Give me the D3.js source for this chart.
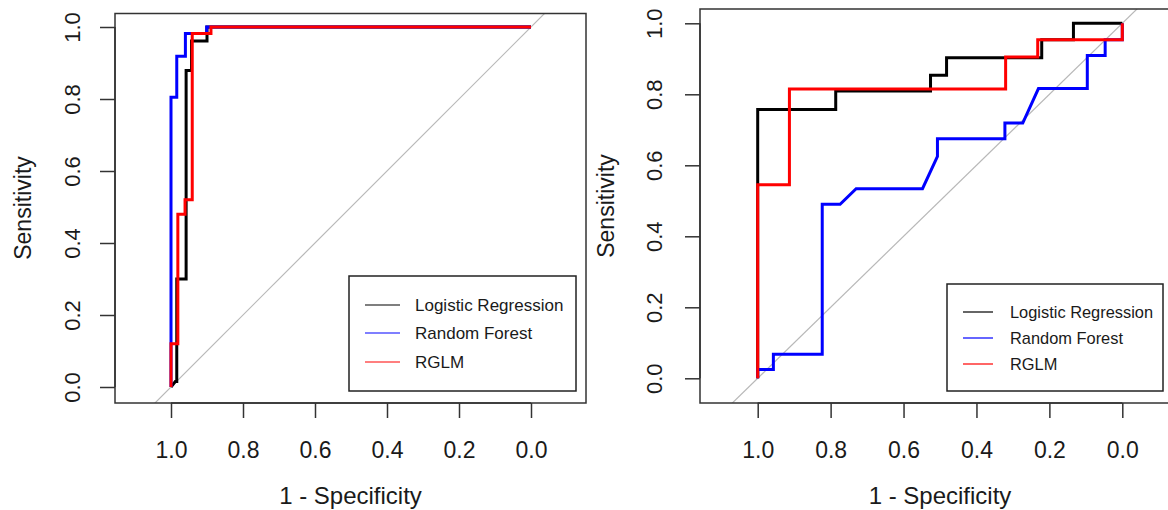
<!DOCTYPE html>
<html><head><meta charset="utf-8">
<script src="https://cdn.jsdelivr.net/npm/d3@7"></script>
<style>
html,body{margin:0;padding:0;background:#fff;}
text{font-family:"Liberation Sans",Arial,sans-serif;fill:#1a1a1a;}
</style></head>
<body>
<svg id="chart" width="1168" height="510"></svg>
<script>
// ---------- data ----------
const models = ["Logistic Regression", "Random Forest", "RGLM"];
const modelColors = ["#000000", "#0000ff", "#ff0000"];
const xTickValues = [1.0, 0.8, 0.6, 0.4, 0.2, 0.0];
const xTickLabels = ["1.0", "0.8", "0.6", "0.4", "0.2", "0.0"];
const yTickValues = [0.0, 0.2, 0.4, 0.6, 0.8, 1.0];
const yTickLabels = ["0.0", "0.2", "0.4", "0.6", "0.8", "1.0"];

// Left panel
const leftLRSpec  = [1, 0.988, 0.984, 0.984, 0.958, 0.958, 0.943, 0.943, 0.90, 0.90, 0];
const leftLRSens  = [0, 0.015, 0.015, 0.30, 0.30, 0.879, 0.879, 0.961, 0.961, 1, 1];
const leftRFSpec  = [1, 1, 0.984, 0.984, 0.96, 0.96, 0.901, 0.901, 0];
const leftRFSens  = [0, 0.805, 0.805, 0.919, 0.919, 0.982, 0.982, 1, 1];
const leftRGSpec  = [1, 1, 0.981, 0.981, 0.961, 0.961, 0.941, 0.941, 0.889, 0.889, 0];
const leftRGSens  = [0, 0.12, 0.12, 0.48, 0.48, 0.52, 0.52, 0.982, 0.982, 1, 1];

// Right panel
const rightLRSpec = [1, 1, 0.786, 0.786, 0.526, 0.526, 0.482, 0.482, 0.221, 0.221, 0.134, 0.134, 0];
const rightLRSens = [0, 0.757, 0.757, 0.809, 0.809, 0.854, 0.854, 0.903, 0.903, 0.954, 0.954, 1, 1];
const rightRFSpec = [1, 1, 0.957, 0.957, 0.823, 0.823, 0.774, 0.730, 0.548, 0.507, 0.507, 0.322, 0.322, 0.273, 0.230, 0.096, 0.096, 0.047, 0.047, 0, 0];
const rightRFSens = [0, 0.025, 0.025, 0.068, 0.068, 0.49, 0.49, 0.534, 0.534, 0.625, 0.675, 0.675, 0.719, 0.719, 0.816, 0.816, 0.909, 0.909, 0.954, 0.954, 1];
const rightRGSpec = [1, 1, 0.913, 0.913, 0.32, 0.32, 0.232, 0.232, 0, 0];
const rightRGSens = [0, 0.545, 0.545, 0.815, 0.815, 0.905, 0.905, 0.954, 0.954, 1];

// ---------- layout ----------
const panels = [
  { box: {x0:115, x1:586, y0:13.5, y1:403}, xr:[171, 531], yr:[387, 27],
    series: [[leftLRSpec,leftLRSens],[leftRFSpec,leftRFSens],[leftRGSpec,leftRGSens]],
    yLabX: 80, yTitleX: 31, yTitleY: 208,
    legend: {x0:349, x1:576, y0:276, y1:391, lx0:365, lx1:400, tx:415, rows:[305,333,362], fs:17} },
  { box: {x0:700, x1:1180, y0:9, y1:403}, xr:[757.7, 1122.3], yr:[378.3, 23.3],
    series: [[rightLRSpec,rightLRSens],[rightRFSpec,rightRFSens],[rightRGSpec,rightRGSens]],
    yLabX: 662, yTitleX: 614, yTitleY: 206,
    legend: {x0:947, x1:1163, y0:284, y1:391, lx0:963, lx1:993, tx:1010, rows:[312,338,364], fs:16.4} }
];

const svg = d3.select("#chart");

panels.forEach((p, pi) => {
  const g = svg.append("g");
  const x = d3.scaleLinear().domain([1, 0]).range(p.xr);
  const y = d3.scaleLinear().domain([0, 1]).range(p.yr);
  const b = p.box;

  const clipId = "clip" + pi;
  svg.append("clipPath").attr("id", clipId).append("rect")
    .attr("x", b.x0).attr("y", b.y0).attr("width", b.x1 - b.x0).attr("height", b.y1 - b.y0);

  // diagonal
  g.append("line").attr("clip-path", `url(#${clipId})`)
    .attr("x1", x(1.3)).attr("y1", y(-0.3)).attr("x2", x(-0.3)).attr("y2", y(1.3))
    .attr("stroke", "#b8b8b8").attr("stroke-width", 1.2);

  // curves
  const line = d3.line().x(d => x(d[0])).y(d => y(d[1]));
  p.series.forEach((s, si) => {
    const pts = s[0].map((v, i) => [v, s[1][i]]);
    g.append("path").attr("d", line(pts)).attr("fill", "none")
      .attr("stroke", modelColors[si]).attr("stroke-width", 3)
      .attr("stroke-linejoin", "miter").attr("stroke-linecap", "butt");
  });

  // box
  g.append("rect").attr("x", b.x0).attr("y", b.y0)
    .attr("width", b.x1 - b.x0).attr("height", b.y1 - b.y0)
    .attr("fill", "none").attr("stroke", "#333").attr("stroke-width", 1.5);

  // x axis
  const xAxis = d3.axisBottom(x).tickValues(xTickValues)
    .tickFormat((d, i) => xTickLabels[i]).tickSize(15).tickSizeOuter(0);
  const xg = g.append("g").attr("transform", `translate(0,${b.y1})`).call(xAxis);
  xg.select(".domain").attr("d", `M${x(1)},0H${x(0)}`).attr("stroke", "#333").attr("stroke-width", 1.5);
  xg.selectAll(".tick line").attr("stroke", "#333").attr("stroke-width", 1.5);
  xg.selectAll(".tick text").attr("font-size", 23).attr("font-family", "Liberation Sans, Arial, sans-serif")
    .attr("fill", "#1a1a1a").attr("dy", null).attr("y", 55);

  // y axis
  const yAxis = d3.axisLeft(y).tickValues(yTickValues)
    .tickFormat((d, i) => yTickLabels[i]).tickSize(15).tickSizeOuter(0);
  const yg = g.append("g").attr("transform", `translate(${b.x0},0)`).call(yAxis);
  yg.select(".domain").attr("d", `M0,${y(0)}V${y(1)}`).attr("stroke", "#333").attr("stroke-width", 1.5);
  yg.selectAll(".tick line").attr("stroke", "#333").attr("stroke-width", 1.5);
  yg.selectAll(".tick text").attr("font-size", 22).attr("font-family", "Liberation Sans, Arial, sans-serif")
    .attr("fill", "#1a1a1a").attr("x", null).attr("dy", null)
    .attr("text-anchor", "middle")
    .attr("transform", `translate(${p.yLabX - b.x0},0) rotate(-90)`);

  // axis titles
  g.append("text").attr("x", (b.x0 + b.x1) / 2).attr("y", 504)
    .attr("text-anchor", "middle").attr("font-size", 24).text("1 - Specificity");
  g.append("text").attr("transform", `translate(${p.yTitleX},${p.yTitleY}) rotate(-90)`)
    .attr("text-anchor", "middle").attr("font-size", 23).text("Sensitivity");

  // legend
  const L = p.legend;
  g.append("rect").attr("x", L.x0).attr("y", L.y0).attr("width", L.x1 - L.x0).attr("height", L.y1 - L.y0)
    .attr("fill", "#fff").attr("stroke", "#222").attr("stroke-width", 1.5);
  models.forEach((m, i) => {
    g.append("line").attr("x1", L.lx0).attr("x2", L.lx1).attr("y1", L.rows[i]).attr("y2", L.rows[i])
      .attr("stroke", modelColors[i]).attr("stroke-width", 1.2);
    g.append("text").attr("x", L.tx).attr("y", L.rows[i]).attr("dy", "0.35em")
      .attr("font-size", L.fs).text(m);
  });
});
</script>
</body></html>
